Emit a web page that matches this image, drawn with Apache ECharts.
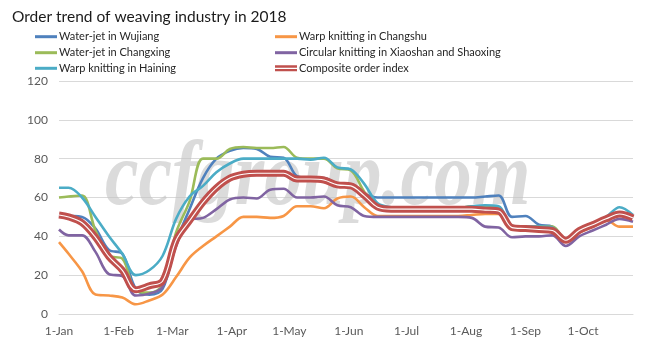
<!DOCTYPE html>
<html>
<head>
<meta charset="utf-8">
<script src="https://cdn.jsdelivr.net/npm/echarts@6/dist/echarts.min.js"></script>
<style>
html,body{margin:0;padding:0;background:#fff;}
#chart{width:654px;height:355px;}
</style>
</head>
<body>
<div id="chart"></div>
<script>
// ---- data ----
const titleText = 'Order trend of weaving industry in 2018';
const dates = ['2018-01-01','2018-01-06','2018-01-13','2018-01-20','2018-01-27','2018-02-03','2018-02-10','2018-02-17','2018-02-24',
  '2018-03-03','2018-03-10','2018-03-17','2018-03-24','2018-03-31','2018-04-07','2018-04-14','2018-04-21','2018-04-28',
  '2018-05-05','2018-05-12','2018-05-19','2018-05-26','2018-06-02','2018-06-09','2018-06-16','2018-06-23','2018-06-30',
  '2018-07-07','2018-07-14','2018-07-21','2018-07-28','2018-08-04','2018-08-11','2018-08-18','2018-08-25',
  '2018-09-01','2018-09-08','2018-09-15','2018-09-22','2018-09-29','2018-10-06','2018-10-13','2018-10-20','2018-10-27'];
const wujiang   = [51,50.5,50,44,33,31,13,10,13,37, 54,70,80,84,85.5,85,81,80.5,71,70, 70,67,66.5,62,60,60,60,60,60,60, 60,60,60.5,61,50,50.5,46,45,38.5,43, 46.5,49.5,52,49.5];
const changshu  = [37,31,22,10,9.5,8.5,5,7,10,19, 29,35,40,45,50,50,49.5,50.5,55.5,55.5, 54.5,59.5,60.5,55,50.5,50.5,50.5,50.5,50.5,50.5, 50.5,51,51.5,51.5,43.5,43.5,43.5,43.5,38,42, 45,48.5,45,45];
const changxing = [60,60.5,61,43,30,28.5,12,11,15,42, 58,80,80,85,86,85.5,85.5,86,80.5,80, 80,75,74,63,55.5,54.5,54.5,54.5,54.5,54.5, 54.5,55.5,55.5,55,45,45,45,45,38.5,43.5, 46.5,49.5,52,50];
const xiaoshan  = [43.5,40.5,40.5,32,20.5,19.5,9.5,10.5,14,35, 48.5,49.5,54,59,60,59.5,64,64.5,60,60, 60.5,56,55,50.5,50,50,50,50,50,50, 50,49.5,45,44.5,39.5,40,40,40.5,35,40, 43,46,49,47.5];
const haining   = [65,65,60,50,40,31,20,22.5,30,49, 60.5,66,73,77.5,80,80,80,80,80,79.5, 80.5,75.5,74.5,67,57,55,54.5,54.5,54.5,54.5, 54.5,55.5,56,55.5,45.5,45,45,44.5,38.5,43.5, 46.5,50,55,51];
const composite = [51,50,47,39.5,29.5,22.5,12.5,14.5,17,38, 48,57.5,65,70,72,72.5,72.5,72.5,69.5,69.5, 69,66.5,66,61,55,54,54,54,54,54, 54,54,53.5,53,44.5,44,43.5,43,38,43, 46,49,51.5,49.5];
const seriesNames = ['Water-jet in Wujiang','Warp knitting in Changshu','Water-jet in Changxing',
  'Circular knitting in Xiaoshan and Shaoxing','Warp knitting in Haining','Composite order index'];
const seriesValues = [wujiang, changshu, changxing, xiaoshan, haining, composite];
const colors = ['#4F81BD','#F79646','#9BBB59','#8064A2','#4BACC6','#C0504D'];
const monthTicks = ['2018-01-01','2018-02-01','2018-03-01','2018-04-01','2018-05-01','2018-06-01','2018-07-01','2018-08-01','2018-09-01','2018-10-01'];
const monthNames = ['Jan','Feb','Mar','Apr','May','Jun','Jul','Aug','Sep','Oct','Nov','Dec'];
const yTicks = [0,20,40,60,80,100,120];
const watermark = 'ccfgroup.com';

function toTs(s){ const p = s.split('-'); return new Date(+p[0], +p[1]-1, +p[2]).getTime(); }

const chart = echarts.init(document.getElementById('chart'), null, {renderer:'canvas'});
const font = 'Lato';

const series = seriesValues.map((vals, i) => ({
  name: seriesNames[i],
  type: 'line',
  data: dates.map((d, j) => [toTs(d), vals[j]]),
  showSymbol: false,
  smooth: 0.35,
  lineStyle: { color: colors[i], width: i === 5 ? 7 : 2.6 },
  itemStyle: { color: colors[i] },
  z: 3 + i
}));
series.push({
  name: '_compositeInner',
  type: 'line',
  data: dates.map((d, j) => [toTs(d), composite[j]]),
  showSymbol: false,
  smooth: 0.35,
  silent: true,
  lineStyle: { color: '#ffffff', width: 1.1 },
  z: 10
});

const legendCols = [35, 275];
const legendRows = [36.7, 52.7, 68.3];
const legends = seriesNames.map((n, i) => {
  const col = i % 2, row = Math.floor(i / 2);
  const isComp = i === 5;
  return {
    data: [{ name: n, icon: isComp ? 'path://M0,0H22V6H0Z M0,2.4V3.6H22V2.4Z' : 'rect' }],
    left: legendCols[col],
    top: legendRows[row] - 7,
    padding: 0,
    itemWidth: 22,
    itemHeight: isComp ? 6 : 3,
    textStyle: { fontFamily: font, fontSize: 11, color: '#262626', lineHeight: 14, padding: [0,0,0,-3] },
    selectedMode: false
  };
});

const monthTs = monthTicks.map(toTs);

chart.setOption({
  animation: false,
  color: colors,
  title: {
    text: titleText,
    left: 12, top: 9, padding: 0,
    textStyle: { fontFamily: font, fontSize: 15.5, fontWeight: 'normal', color: '#1a1a1a' }
  },
  legend: legends,
  graphic: [{
    type: 'text',
    x: 105, y: 180,
    scaleX: 0.82,
    z: 1,
    silent: true,
    style: {
      text: watermark,
      fontFamily: '"Liberation Serif", "DejaVu Serif", serif',
      fontStyle: 'italic', fontWeight: 'bold', fontSize: 92,
      fill: 'rgba(195,195,195,0.6)',
      verticalAlign: 'middle', align: 'left'
    }
  }],
  grid: { left: 59, right: 21, top: 81, bottom: 41, containLabel: false },
  xAxis: {
    type: 'value',
    min: toTs(dates[0]),
    max: toTs(dates[dates.length - 1]),
    axisLine: { show: true, lineStyle: { color: '#d9d9d9', width: 1 } },
    axisTick: { show: false, customValues: monthTs },
    splitLine: { show: false },
    axisLabel: {
      customValues: monthTs,
      formatter: v => '1-' + monthNames[new Date(v).getMonth()],
      fontFamily: font, fontSize: 12, color: '#595959', margin: 11,
      hideOverlap: false
    }
  },
  yAxis: {
    type: 'value',
    min: yTicks[0], max: yTicks[yTicks.length - 1], interval: 20,
    axisLine: { show: false },
    axisTick: { show: false },
    splitLine: { lineStyle: { color: '#d9d9d9', width: 1 } },
    axisLabel: { fontFamily: font, fontSize: 12, color: '#595959', margin: 11 }
  },
  series: series
});
</script>
</body>
</html>
